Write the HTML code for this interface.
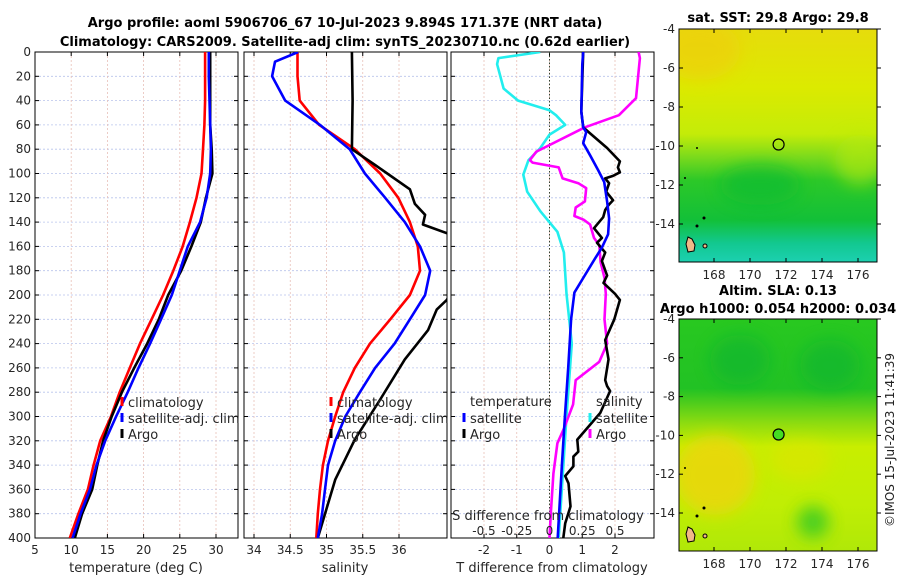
<!DOCTYPE html>
<html><head><meta charset="utf-8"><style>
body{margin:0;background:#fff;}
svg{display:block;font-family:"DejaVu Sans","Liberation Sans",sans-serif;}
</style></head><body>
<svg id="c" width="900" height="580" viewBox="0 0 900 580" xmlns="http://www.w3.org/2000/svg">
<defs>
<linearGradient id="g1" x1="0" y1="0" x2="0" y2="1">
<stop offset="0" stop-color="#e6dc0c"/><stop offset="0.25" stop-color="#dcea00"/><stop offset="0.45" stop-color="#c4ec08"/><stop offset="0.55" stop-color="#7ada1c"/><stop offset="0.65" stop-color="#2cc828"/><stop offset="0.82" stop-color="#12c038"/><stop offset="0.92" stop-color="#12c890"/><stop offset="1" stop-color="#1cd0b0"/>
</linearGradient>
<linearGradient id="g2" x1="0" y1="0" x2="0" y2="1">
<stop offset="0" stop-color="#28c820"/><stop offset="0.3" stop-color="#22c224"/><stop offset="0.45" stop-color="#8edc10"/><stop offset="0.55" stop-color="#c8ee00"/><stop offset="0.8" stop-color="#c0ee04"/><stop offset="1" stop-color="#b0e808"/>
</linearGradient>
<filter id="bl" x="-50%" y="-50%" width="200%" height="200%"><feGaussianBlur stdDeviation="8"/></filter>
<clipPath id="cm1"><rect x="679" y="29" width="198" height="233"/></clipPath>
<clipPath id="cm2"><rect x="679" y="319" width="198" height="232"/></clipPath>
<clipPath id="cp1"><rect x="35" y="52" width="203" height="486"/></clipPath>
<clipPath id="cp2"><rect x="244" y="52" width="203" height="486"/></clipPath>
<clipPath id="cp3"><rect x="451" y="52" width="203" height="486"/></clipPath>
</defs>
<text x="345" y="27" text-anchor="middle" font-size="13" font-weight="bold" fill="#000">Argo profile: aoml 5906706_67 10-Jul-2023 9.894S 171.37E (NRT data)</text>
<text x="345" y="46" text-anchor="middle" font-size="13" font-weight="bold" fill="#000">Climatology: CARS2009. Satellite-adj clim: synTS_20230710.nc (0.62d earlier)</text>

<g>
<g clip-path="url(#cm1)">
<rect x="679" y="29" width="198" height="233" fill="url(#g1)"/>
<ellipse cx="700" cy="50" rx="40" ry="30" fill="#f0cc10" opacity="0.6" filter="url(#bl)"/>
<ellipse cx="760" cy="185" rx="40" ry="20" fill="#10bc30" opacity="0.7" filter="url(#bl)"/>
<ellipse cx="860" cy="160" rx="25" ry="25" fill="#b8ea0c" opacity="0.6" filter="url(#bl)"/>
<path d="M688 237 l4 2 l3 6 l-1 6 l-6 1 l-2 -8 z" fill="#f0b888" stroke="#000" stroke-width="1"/>
<circle cx="705" cy="246" r="2" fill="#f0b888" stroke="#000"/><circle cx="704" cy="218" r="1.5" fill="#000"/><circle cx="697" cy="226" r="1.5" fill="#000"/><circle cx="685" cy="178" r="1" fill="#000"/><circle cx="697" cy="148" r="1" fill="#000"/>
</g>
<rect x="679" y="29" width="198" height="233" fill="none" stroke="#000"/>
<text x="778" y="22" text-anchor="middle" font-size="13" font-weight="bold">sat. SST: 29.8 Argo: 29.8</text>
<circle cx="778.6" cy="144.5" r="5.5" fill="none" stroke="#000" stroke-width="1.2"/>
</g>
<g>
<g clip-path="url(#cm2)">
<rect x="679" y="319" width="198" height="232" fill="url(#g2)"/>
<ellipse cx="740" cy="360" rx="30" ry="25" fill="#10b430" opacity="0.6" filter="url(#bl)"/>
<ellipse cx="830" cy="365" rx="30" ry="25" fill="#10b430" opacity="0.6" filter="url(#bl)"/>
<ellipse cx="715" cy="475" rx="40" ry="40" fill="#eed408" opacity="0.8" filter="url(#bl)"/>
<ellipse cx="800" cy="460" rx="30" ry="20" fill="#dee400" opacity="0.6" filter="url(#bl)"/>
<ellipse cx="813" cy="522" rx="16" ry="16" fill="#40cc20" opacity="0.9" filter="url(#bl)"/>
<path d="M688 527 l4 2 l3 6 l-1 6 l-6 1 l-2 -8 z" fill="#f0b888" stroke="#000" stroke-width="1"/>
<circle cx="705" cy="536" r="2" fill="#f0b888" stroke="#000"/><circle cx="704" cy="508" r="1.5" fill="#000"/><circle cx="697" cy="516" r="1.5" fill="#000"/><circle cx="685" cy="468" r="1" fill="#000"/>
</g>
<rect x="679" y="319" width="198" height="232" fill="none" stroke="#000"/>
<text x="778" y="295" text-anchor="middle" font-size="13" font-weight="bold">Altim. SLA: 0.13</text>
<text x="778" y="313" text-anchor="middle" font-size="13" font-weight="bold">Argo h1000: 0.054 h2000: 0.034</text>
<circle cx="778.6" cy="434.5" r="5.5" fill="#44dd22" stroke="#000" stroke-width="1.2"/>
</g>
<text transform="translate(894,440) rotate(-90)" text-anchor="middle" font-size="12" fill="#222">©IMOS 15-Jul-2023 11:41:39</text>
<g id="plots"></g>
</svg>
<script>
// ---- data ----
const depthTicks = [0,20,40,60,80,100,120,140,160,180,200,220,240,260,280,300,320,340,360,380,400];
const tTicks = [5,10,15,20,25,30];
const sTicks = [34,34.5,35,35.5,36];
const tdTicks = [-2,-1,0,1,2];
const sdTicks = [-0.5,-0.25,0,0.25,0.5];
const sdTickLabels = ["-0.5","-0.25","0","0.25","0.5"];
const lonTicks = [168,170,172,174,176];
const latTicks = [-4,-6,-8,-10,-12,-14];

const depthT = [0,20,40,60,80,100,120,140,160,180,200,220,240,260,280,300,320,340,360,380,400];
const climT = [28.5,28.5,28.5,28.4,28.2,28.0,27.3,26.4,25.4,24.1,22.7,21.1,19.5,18.1,16.7,15.5,14.0,13.1,12.3,11.0,9.8];
const satT = [29.0,29.0,29.1,29.2,29.3,29.2,28.7,27.8,26.1,25.0,23.9,22.4,20.9,19.3,17.8,16.2,14.7,13.5,12.6,11.3,10.2];
const argoT = [29.2,29.2,29.2,29.2,29.4,29.5,28.6,27.9,26.6,25.2,23.4,22.1,20.5,18.7,17.0,15.6,14.4,13.6,12.9,11.5,10.5];

const depthClimS = [0,20,40,60,80,100,120,140,160,180,200,220,240,260,280,300,320,340,360,380,400];
const climS = [34.6,34.6,34.63,34.9,35.39,35.74,35.99,36.15,36.26,36.29,36.15,35.88,35.6,35.39,35.23,35.12,35.02,34.95,34.91,34.88,34.86];
const depthSatS = [0,8,20,40,60,80,100,120,140,160,180,200,220,240,260,280,300,320,340,360,380,400];
const satS = [34.61,34.29,34.25,34.43,34.91,35.32,35.53,35.81,36.08,36.29,36.43,36.36,36.15,35.94,35.67,35.46,35.26,35.12,35.02,34.98,34.94,34.88];
const depthArgoS = [0,40,80,93,113,125,134,142,150,170,190,204,212,229,253,286,319,352,400];
const argoS = [35.35,35.36,35.35,35.67,36.15,36.22,36.36,36.33,36.7,36.8,36.8,36.66,36.52,36.4,36.08,35.74,35.39,35.12,34.88];

const depthSatTd = [0,10,49,62,66,75,85,97,107,123,137,150,161,170,186,198,220,260,300,340,400];
const satTd = [1.03,1.0,0.97,1.03,1.12,1.03,1.24,1.48,1.67,1.76,1.82,1.79,1.6,1.39,1.03,0.76,0.66,0.57,0.47,0.38,0.25];
const depthArgoTd = [0,49,62,67,79,90,95,99,102,104,108,115,122,126,130,136,145,153,157,165,172,184,190,199,204,220,237,253,270,275,279,297,319,329,333,341,349,355,374,388,400];
const argoTd = [1.03,0.97,1.03,1.24,1.76,2.15,2.09,2.15,1.94,1.7,1.82,1.73,1.94,1.8,1.7,1.64,1.36,1.6,1.45,1.7,1.6,1.76,1.65,2.0,2.15,1.98,1.7,1.8,1.7,1.76,1.85,1.55,0.85,0.88,0.73,0.73,0.48,0.58,0.64,0.48,0.42];
const depthSatSd = [0,5,10,30,40,48,52,60,68,79,89,101,115,131,148,165,199,240,300,400];
const satSd = [-0.07,-0.39,-0.4,-0.35,-0.24,0.0,0.05,0.12,0,-0.07,-0.16,-0.2,-0.17,-0.07,0.06,0.11,0.13,0.17,0.13,0.07];
const depthArgoSd = [0,5,38,52,62,82,89,91,95,104,108,112,123,128,135,138,142,153,159,173,186,199,220,240,255,270,290,310,322,347,380,400];
const argoSd = [0.68,0.69,0.66,0.53,0.27,-0.1,-0.15,-0.13,0.07,0.1,0.22,0.28,0.27,0.2,0.19,0.26,0.31,0.34,0.38,0.39,0.42,0.43,0.42,0.44,0.38,0.2,0.18,0.11,0.06,0.03,0.01,0.0];

// ---- scales ----
const NS = "http://www.w3.org/2000/svg";
const yD = d => 52 + d * (486/400);
const x1 = t => 35 + (t - 5) * 7.24;
const x2 = s => 254 + (s - 34) * 72.5;
const x3 = d => 549.5 + d * 32.75;
const x3s = s => 549.5 + s * 131;
const lonX = l => 714 + (l - 168) * 18;
const latY1 = la => 29 + (-4 - la) * 19.5;
const latY2 = la => 319 + (-4 - la) * 19.4;

const root = document.getElementById('plots');
function mk(tag, attrs, parent, text){
  const e = document.createElementNS(NS, tag);
  for (const k in attrs) e.setAttribute(k, attrs[k]);
  if (text !== undefined) e.textContent = text;
  (parent || root).appendChild(e);
  return e;
}
function panel(name, left, ticks, xf, labels, xtitle, showY){
  const g = mk('g', {});
  
  
  depthTicks.forEach(d => {
    const y = yD(d);
    const gl = mk('line', {x1:left, x2:left+203, y1:y, y2:y, stroke:'#b8c4ec', 'stroke-width':0.8, 'stroke-dasharray':'2,2'}, g);
    
    
    mk('line', {x1:left, x2:left+4, y1:y, y2:y, stroke:'#000'}, g);
    mk('line', {x1:left+199, x2:left+203, y1:y, y2:y, stroke:'#000'}, g);
    if (showY) {
      const t = mk('text', {x:left-4, y:y+4, 'text-anchor':'end', 'font-size':12, fill:'#262626'}, g, String(d));
      
      
    }
  });
  ticks.forEach((v,i) => {
    const x = xf(v);
    const gl = mk('line', {x1:x, x2:x, y1:52, y2:538, stroke:'#e8c0b8', 'stroke-width':0.8, 'stroke-dasharray':'2,2'}, g);
    
    
    mk('line', {x1:x, x2:x, y1:538, y2:534, stroke:'#000'}, g);
    mk('line', {x1:x, x2:x, y1:52, y2:56, stroke:'#000'}, g);
    const t = mk('text', {x:x, y:554, 'text-anchor':'middle', 'font-size':12, fill:'#262626'}, g, labels ? labels[i] : String(v));
    
    
  });
  const fr = mk('rect', {x:left, y:52, width:203, height:486, fill:'none', stroke:'#000'}, g);
  
  
  const xt = mk('text', {x:left+101, y:572, 'text-anchor':'middle', 'font-size':13, fill:'#262626'}, g, xtitle);
  
  
  return g;
}
function line(g, depths, vals, xf, color, clip, name){
  const pts = depths.map((d,i) => xf(vals[i]).toFixed(1) + ',' + yD(d).toFixed(1)).join(' ');
  const p = mk('polyline', {points:pts, fill:'none', stroke:color, 'stroke-width':2.6, 'stroke-linejoin':'round', 'clip-path':'url(#'+clip+')'}, g);
  
  
}
function legend(g, x, y, color, label, name){
  const lg = mk('g', {}, g);
  
  
  if (color) mk('line', {x1:x, x2:x, y1:y-10, y2:y-1, stroke:color, 'stroke-width':3}, lg);
  mk('text', {x:x+6, y:y, 'font-size':13, fill:'#262626'}, lg, label);
}

const p1 = panel('temperature-panel', 35, tTicks, x1, null, 'temperature (deg C)', true);
line(p1, depthT, climT, x1, '#ff0000', 'cp1', 'climatology-temperature-line');
line(p1, depthT, argoT, x1, '#000000', 'cp1', 'argo-temperature-line');
line(p1, depthT, satT, x1, '#0000ff', 'cp1', 'satellite-temperature-line');
legend(p1, 122, 407, '#ff0000', 'climatology', 'legend-climatology');
legend(p1, 122, 423, '#0000ff', 'satellite-adj. clim', 'legend-satellite');
legend(p1, 122, 439, '#000000', 'Argo', 'legend-argo');

const p2 = panel('salinity-panel', 244, sTicks, x2, null, 'salinity', false);
line(p2, depthClimS, climS, x2, '#ff0000', 'cp2', 'climatology-salinity-line');
line(p2, depthArgoS, argoS, x2, '#000000', 'cp2', 'argo-salinity-line');
line(p2, depthSatS, satS, x2, '#0000ff', 'cp2', 'satellite-salinity-line');
legend(p2, 331, 407, '#ff0000', 'climatology', 'legend-climatology-s');
legend(p2, 331, 423, '#0000ff', 'satellite-adj. clim', 'legend-satellite-s');
legend(p2, 331, 439, '#000000', 'Argo', 'legend-argo-s');

const p3 = panel('difference-panel', 451, tdTicks, x3, null, 'T difference from climatology', false);
const zl = mk('line', {x1:x3(0), x2:x3(0), y1:52, y2:538, stroke:'#334433', 'stroke-width':1, 'stroke-dasharray':'1.5,2'}, p3);


line(p3, depthSatSd, satSd, x3s, '#22eeee', 'cp3', 'satellite-salinity-diff-line');
line(p3, depthArgoSd, argoSd, x3s, '#ff00ff', 'cp3', 'argo-salinity-diff-line');
line(p3, depthArgoTd, argoTd, x3, '#000000', 'cp3', 'argo-temperature-diff-line');
line(p3, depthSatTd, satTd, x3, '#0000ff', 'cp3', 'satellite-temperature-diff-line');
legend(p3, 464, 406, null, 'temperature', 'legend-temperature-header');
legend(p3, 464, 423, '#0000ff', 'satellite', 'legend-t-satellite');
legend(p3, 464, 439, '#000000', 'Argo', 'legend-t-argo');
legend(p3, 590, 406, null, 'salinity', 'legend-salinity-header');
legend(p3, 590, 423, '#22eeee', 'satellite', 'legend-s-satellite');
legend(p3, 590, 439, '#ff00ff', 'Argo', 'legend-s-argo');
const st = mk('text', {x:548, y:520, 'text-anchor':'middle', 'font-size':13, fill:'#262626'}, p3, 'S difference from climatology');


sdTicks.forEach((v,i) => {
  const t = mk('text', {x:x3s(v), y:535, 'text-anchor':'middle', 'font-size':12, fill:'#262626'}, p3, sdTickLabels[i]);
  
  
});

// map axes
[[latY1, 29, 262], [latY2, 319, 551]].forEach(([ly, top, bot], k) => {
  const g = mk('g', {});
  
  
  lonTicks.forEach(l => {
    const x = lonX(l);
    mk('line', {x1:x, x2:x, y1:bot, y2:bot-4, stroke:'#000'}, g);
    mk('line', {x1:x, x2:x, y1:top, y2:top+4, stroke:'#000'}, g);
    const t = mk('text', {x:x, y:bot+17, 'text-anchor':'middle', 'font-size':12, fill:'#262626'}, g, String(l));
    
    
  });
  latTicks.forEach(la => {
    const y = ly(la);
    mk('line', {x1:679, x2:683, y1:y, y2:y, stroke:'#000'}, g);
    mk('line', {x1:877, x2:881, y1:y, y2:y, stroke:'#000'}, g);
    const t = mk('text', {x:675, y:y+4, 'text-anchor':'end', 'font-size':12, fill:'#262626'}, g, String(la));
    
    
  });
});
</script>
</body></html>
